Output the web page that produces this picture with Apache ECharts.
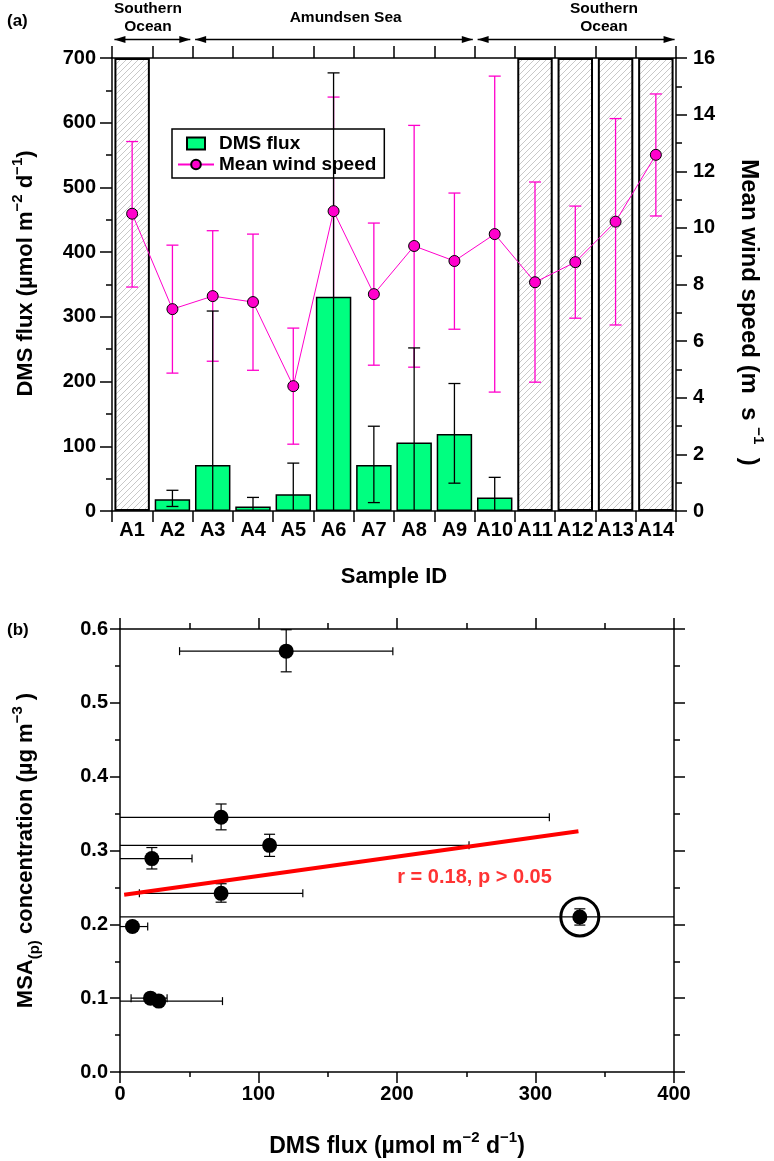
<!DOCTYPE html>
<html><head><meta charset="utf-8">
<script src="https://cdn.jsdelivr.net/npm/echarts@6/dist/echarts.min.js"></script>
<style>html,body{margin:0;padding:0;background:#fff}#c{width:774px;height:1161px}</style>
</head><body><div id="c"></div>
<script>
// ---------- Panel (a) data ----------
const samples = ['A1','A2','A3','A4','A5','A6','A7','A8','A9','A10','A11','A12','A13','A14'];
const dmsFlux     = [null, 18, 71, 7, 26, 331, 71, 106, 119, 21, null, null, null, null];
const dmsFluxLow  = [null, 7, -166, -4, -22, -15, 13, -40, 43, -10, null, null, null, null];
const dmsFluxHigh = [null, 32, 309, 21, 74, 677, 131, 252, 197, 52, null, null, null, null];
const noDataBar   = [700, null, null, null, null, null, null, null, null, null, 700, 700, 700, 700];
const windSpeed = [10.50, 7.13, 7.59, 7.38, 4.41, 10.59, 7.66, 9.36, 8.83, 9.78, 8.08, 8.79, 10.22, 12.58];
const windLow   = [7.91, 4.87, 5.29, 4.97, 2.36, 6.57, 5.15, 5.08, 6.42, 4.20, 4.55, 6.81, 6.57, 10.42];
const windHigh  = [13.05, 9.39, 9.90, 9.78, 6.46, 14.62, 10.17, 13.62, 11.23, 15.36, 11.62, 10.77, 13.86, 14.73];
const fluxTicks = {min: 0, max: 700, interval: 100};
const windTicks = {min: 0, max: 16, interval: 2};
const regionNames   = ['Southern\nOcean', 'Amundsen Sea', 'Southern\nOcean'];
const regionStart   = [0, 2, 9];
const regionEnd     = [2, 9, 14];
const regionLabelAt = [0.89, 5.79, 12.19];

// ---------- Panel (b) data ----------
const msaFlux     = [120, 73, 108, 23, 73, 9, 332, 22, 28];
const msaFluxLow  = [43, -166, -40, -8, 14, -5, -15, 8, -22];
const msaFluxHigh = [197, 310, 252, 52, 132, 20, 677, 34, 74];
const msaConc     = [0.570, 0.345, 0.307, 0.289, 0.242, 0.197, 0.210, 0.100, 0.096];
const msaLow      = [0.542, 0.328, 0.292, 0.275, 0.230, 0.191, 0.199, 0.096, 0.092];
const msaHigh     = [0.599, 0.363, 0.322, 0.304, 0.255, 0.203, 0.221, 0.104, 0.100];
const outlierIndex = 6;
const fitX = [3, 331];
const fitY = [0.240, 0.326];
const fitText = 'r = 0.18, p > 0.05';
const fitTextAt = [256, 0.263];
const msaXTicks = {min: 0, max: 400, interval: 100};
const msaYTicks = {min: 0, max: 0.6, interval: 0.1};

// ---------- styling ----------
const FONT = '"Liberation Sans", Arial, sans-serif';
const PINK = '#ff00cc';
const GREEN = '#00ff80';

function hatchPattern() {
  const s = 6;
  const c = document.createElement('canvas');
  c.width = s; c.height = s;
  const g = c.getContext('2d');
  g.fillStyle = '#ffffff'; g.fillRect(0, 0, s, s);
  g.strokeStyle = '#c2c2c2'; g.lineWidth = 0.9;
  g.beginPath();
  g.moveTo(0, s); g.lineTo(s, 0);
  g.moveTo(-1, 1); g.lineTo(1, -1);
  g.moveTo(s - 1, s + 1); g.lineTo(s + 1, s - 1);
  g.stroke();
  return c;
}

const axisLine = {show: true, onZero: false, lineStyle: {color: '#000', width: 1.5}};
const tickStyle = {color: '#000', width: 1.5};
const labelStyle = {color: '#000', fontWeight: 'bold', fontSize: 20, fontFamily: FONT};
function rich(size) {
  return {
    t: {fontSize: size, fontWeight: 'bold', fontFamily: FONT, color: '#000', lineHeight: size + 10},
    s: {fontSize: 15, fontWeight: 'bold', fontFamily: FONT, color: '#000', verticalAlign: 'top'},
    b: {fontSize: 15, fontWeight: 'bold', fontFamily: FONT, color: '#000', verticalAlign: 'bottom'}
  };
}

function vErrRender(lowArr, highArr, color, axisMin) {
  return function (params, api) {
    const i = params.dataIndex;
    const lo = lowArr[i], hi = highArr[i];
    if (lo == null || hi == null) return null;
    const cap = 6;
    const x = api.coord([i, 0])[0];
    const yT = api.coord([i, hi])[1];
    const yB = api.coord([i, Math.max(lo, axisMin)])[1];
    const st = {stroke: color, lineWidth: 1.3};
    const ch = [
      {type: 'line', shape: {x1: x, y1: yT, x2: x, y2: yB}, style: st},
      {type: 'line', shape: {x1: x - cap, y1: yT, x2: x + cap, y2: yT}, style: st}
    ];
    if (lo >= axisMin) ch.push({type: 'line', shape: {x1: x - cap, y1: yB, x2: x + cap, y2: yB}, style: st});
    return {type: 'group', children: ch};
  };
}

const chart = echarts.init(document.getElementById('c'), null, {renderer: 'canvas'});
const pattern = {image: hatchPattern(), repeat: 'repeat'};

const option = {
  animation: false,
  backgroundColor: '#fff',
  title: [
    {text: '(a)', left: 2, top: 8, textStyle: {fontSize: 17, fontWeight: 'bold', fontFamily: FONT, color: '#000'}},
    {text: '(b)', left: 2, top: 617, textStyle: {fontSize: 17, fontWeight: 'bold', fontFamily: FONT, color: '#000'}}
  ],
  legend: {
    data: [
      {name: 'DMS flux', icon: 'path://M0,0M36,12M9,0H27V12H9Z'},
      {name: 'Mean wind speed'}
    ],
    orient: 'vertical', left: 172, top: 129,
    backgroundColor: '#fff', borderColor: '#000', borderWidth: 1.5, borderRadius: 0,
    padding: [5, 8, 4, 5], itemGap: 2, itemWidth: 36, itemHeight: 12, itemTextGap: 9,
    textStyle: {fontSize: 19, fontWeight: 'bold', fontFamily: FONT, color: '#000'},
    selectedMode: false
  },
  grid: [
    {left: 112, top: 58, width: 565, height: 453},
    {left: 120, top: 629, width: 554, height: 443},
    {left: 112, top: 0, width: 565, height: 58}
  ],
  xAxis: [
    {type: 'category', gridIndex: 0, data: samples, position: 'bottom',
     axisLine, axisTick: {show: true, length: 11, lineStyle: tickStyle},
     axisLabel: Object.assign({margin: 9, interval: 0}, labelStyle),
     name: 'Sample ID', nameLocation: 'middle', nameGap: 55,
     nameTextStyle: {fontSize: 22, fontWeight: 'bold', fontFamily: FONT, color: '#000'}},
    {type: 'category', gridIndex: 0, data: samples, position: 'top',
     axisLine, axisTick: {show: true, length: 12, lineStyle: tickStyle}, axisLabel: {show: false}},
    {type: 'value', gridIndex: 1, position: 'bottom', min: msaXTicks.min, max: msaXTicks.max, interval: msaXTicks.interval,
     axisLine, axisTick: {show: true, length: 11, lineStyle: tickStyle},
     minorTick: {show: true, splitNumber: 2, length: 5, lineStyle: tickStyle},
     splitLine: {show: false}, minorSplitLine: {show: false},
     axisLabel: Object.assign({margin: 12}, labelStyle),
     name: '{t|DMS flux (µmol m}{s|−2}{t| d}{s|−1}{t|)}', nameLocation: 'middle', nameGap: 58,
     nameTextStyle: {rich: rich(23)}},
    {type: 'value', gridIndex: 1, position: 'top', min: msaXTicks.min, max: msaXTicks.max, interval: msaXTicks.interval,
     axisLine, axisTick: {show: true, length: 11, lineStyle: tickStyle},
     minorTick: {show: true, splitNumber: 2, length: 6, lineStyle: tickStyle},
     splitLine: {show: false}, axisLabel: {show: false}},
    {type: 'value', gridIndex: 2, min: 0, max: 14, show: false}
  ],
  yAxis: [
    {type: 'value', gridIndex: 0, position: 'left', min: fluxTicks.min, max: fluxTicks.max, interval: fluxTicks.interval,
     axisLine, axisTick: {show: true, length: 12, lineStyle: tickStyle},
     minorTick: {show: true, splitNumber: 2, length: 6, lineStyle: tickStyle},
     splitLine: {show: false},
     axisLabel: Object.assign({margin: 16}, labelStyle),
     name: '{t|DMS flux (µmol m}{s|−2}{t| d}{s|−1}{t|)}', nameLocation: 'middle', nameGap: 70, nameRotate: 90,
     nameTextStyle: {rich: rich(22), padding: [0, 0, 0, 22]}},
    {type: 'value', gridIndex: 0, position: 'right', min: windTicks.min, max: windTicks.max, interval: windTicks.interval,
     axisLine, axisTick: {show: true, length: 11, lineStyle: tickStyle},
     minorTick: {show: true, splitNumber: 2, length: 6, lineStyle: tickStyle},
     splitLine: {show: false},
     axisLabel: Object.assign({margin: 17}, labelStyle),
     name: '{t|Mean wind speed (m  s }{s|−1}{t|  )}', nameLocation: 'middle', nameGap: 56, nameRotate: -90,
     nameTextStyle: {rich: rich(24), padding: [0, 0, 0, 56]}},
    {type: 'value', gridIndex: 1, position: 'left', min: msaYTicks.min, max: msaYTicks.max, interval: msaYTicks.interval,
     axisLine, axisTick: {show: true, length: 10, lineStyle: tickStyle},
     minorTick: {show: true, splitNumber: 2, length: 5, lineStyle: tickStyle},
     splitLine: {show: false},
     axisLabel: Object.assign({margin: 12, formatter: v => v.toFixed(1)}, labelStyle),
     name: '{t|MSA}{b|(p)}{t| concentration (µg m}{s|−3}{t| )}', nameLocation: 'middle', nameGap: 78, nameRotate: 90,
     nameTextStyle: {rich: rich(22)}},
    {type: 'value', gridIndex: 1, position: 'right', min: msaYTicks.min, max: msaYTicks.max, interval: msaYTicks.interval,
     axisLine, axisTick: {show: true, length: 11, lineStyle: tickStyle},
     minorTick: {show: true, splitNumber: 2, length: 6, lineStyle: tickStyle},
     splitLine: {show: false}, axisLabel: {show: false}},
    {type: 'value', gridIndex: 2, min: 0, max: 1, show: false}
  ],
  series: [
    {name: 'No data', type: 'bar', xAxisIndex: 0, yAxisIndex: 0, data: noDataBar,
     barWidth: '88%', barGap: '-100%', z: 1, silent: true,
     itemStyle: {color: pattern, borderColor: '#000', borderWidth: 2}},
    {name: 'windErr', type: 'custom', xAxisIndex: 0, yAxisIndex: 1, z: 2, silent: true,
     data: samples.map((s, i) => [i, windSpeed[i]]), encode: {x: 0, y: 1},
     renderItem: vErrRender(windLow, windHigh, PINK, windTicks.min)},
    {name: 'DMS flux', type: 'bar', xAxisIndex: 0, yAxisIndex: 0, data: dmsFlux,
     barWidth: '88%', barGap: '-100%', z: 3,
     itemStyle: {color: GREEN, borderColor: '#000', borderWidth: 1.5}},
    {name: 'dmsErr', type: 'custom', xAxisIndex: 0, yAxisIndex: 0, z: 4, silent: true,
     data: samples.map((s, i) => [i, dmsFlux[i] == null ? 0 : dmsFlux[i]]), encode: {x: 0, y: 1},
     renderItem: vErrRender(dmsFluxLow, dmsFluxHigh, '#000', fluxTicks.min)},
    {name: 'Mean wind speed', type: 'line', xAxisIndex: 0, yAxisIndex: 1, data: windSpeed, z: 5,
     symbol: 'circle', symbolSize: 11, color: PINK,
     lineStyle: {color: PINK, width: 1},
     itemStyle: {color: PINK, borderColor: '#000', borderWidth: 1}},
    {name: 'regions', type: 'custom', xAxisIndex: 4, yAxisIndex: 4, z: 5, silent: true, clip: false,
     data: regionNames.map((n, i) => [regionStart[i], 0]), encode: {x: 0, y: 1},
     renderItem: function (params, api) {
       const i = params.dataIndex;
       const cs = params.coordSys;
       const y = cs.y + 39.5;
       const gap = 0.06;
       const xa = api.coord([regionStart[i] + gap, 0])[0];
       const xb = api.coord([regionEnd[i] - gap, 0])[0];
       const xl = api.coord([regionLabelAt[i], 0])[0];
       const fill = {fill: '#000'};
       return {type: 'group', children: [
         {type: 'line', shape: {x1: xa, y1: y, x2: xb, y2: y}, style: {stroke: '#000', lineWidth: 1.5}},
         {type: 'polygon', shape: {points: [[xa, y], [xa + 11, y - 3.5], [xa + 11, y + 3.5]]}, style: fill},
         {type: 'polygon', shape: {points: [[xb, y], [xb - 11, y - 3.5], [xb - 11, y + 3.5]]}, style: fill},
         {type: 'text', x: xl, y: y - 22, style: {text: regionNames[i], align: 'center', verticalAlign: 'middle',
           fontSize: 15.5, fontWeight: 'bold', fontFamily: FONT, fill: '#000', lineHeight: 18}}
       ]};
     }},
    {name: 'msaErr', type: 'custom', xAxisIndex: 2, yAxisIndex: 2, z: 3, silent: true,
     data: msaFlux.map((x, i) => [x, msaConc[i]]), encode: {x: 0, y: 1},
     renderItem: function (params, api) {
       const i = params.dataIndex;
       const c = api.coord([msaFlux[i], msaConc[i]]);
       const lo = Math.max(msaFluxLow[i], msaXTicks.min);
       const hi = Math.min(msaFluxHigh[i], msaXTicks.max);
       const xL = api.coord([lo, msaConc[i]])[0];
       const xH = api.coord([hi, msaConc[i]])[0];
       const yT = api.coord([msaFlux[i], msaHigh[i]])[1];
       const yB = api.coord([msaFlux[i], msaLow[i]])[1];
       const st = {stroke: '#000', lineWidth: 1.2};
       const ch = [
         {type: 'line', shape: {x1: xL, y1: c[1], x2: xH, y2: c[1]}, style: st},
         {type: 'line', shape: {x1: c[0], y1: yT, x2: c[0], y2: yB}, style: st},
         {type: 'line', shape: {x1: c[0] - 5.5, y1: yT, x2: c[0] + 5.5, y2: yT}, style: st},
         {type: 'line', shape: {x1: c[0] - 5.5, y1: yB, x2: c[0] + 5.5, y2: yB}, style: st}
       ];
       if (msaFluxLow[i] >= msaXTicks.min) ch.push({type: 'line', shape: {x1: xL, y1: c[1] - 4, x2: xL, y2: c[1] + 4}, style: st});
       if (msaFluxHigh[i] <= msaXTicks.max) ch.push({type: 'line', shape: {x1: xH, y1: c[1] - 4, x2: xH, y2: c[1] + 4}, style: st});
       return {type: 'group', children: ch};
     }},
    {name: 'MSA', type: 'scatter', xAxisIndex: 2, yAxisIndex: 2, z: 4,
     data: msaFlux.map((x, i) => [x, msaConc[i]]),
     symbol: 'circle', symbolSize: 15, itemStyle: {color: '#000', opacity: 1}},
    {name: 'outlier', type: 'scatter', xAxisIndex: 2, yAxisIndex: 2, z: 4, silent: true,
     data: [[msaFlux[outlierIndex], msaConc[outlierIndex]]],
     symbol: 'circle', symbolSize: 38,
     itemStyle: {color: 'rgba(0,0,0,0)', borderColor: '#000', borderWidth: 3, opacity: 1}},
    {name: 'fit', type: 'line', xAxisIndex: 2, yAxisIndex: 2, z: 5, silent: true,
     data: fitX.map((x, i) => [x, fitY[i]]), symbol: 'none',
     lineStyle: {color: '#ff0000', width: 4}},
    {name: 'fitText', type: 'scatter', xAxisIndex: 2, yAxisIndex: 2, z: 6, silent: true,
     data: [fitTextAt], symbolSize: 1, itemStyle: {color: 'rgba(0,0,0,0)'},
     label: {show: true, position: 'inside', formatter: fitText, color: '#ff0000',
       fontSize: 20, fontWeight: 'bold', fontFamily: FONT}}
  ]
};
chart.setOption(option);
</script>
</body></html>
